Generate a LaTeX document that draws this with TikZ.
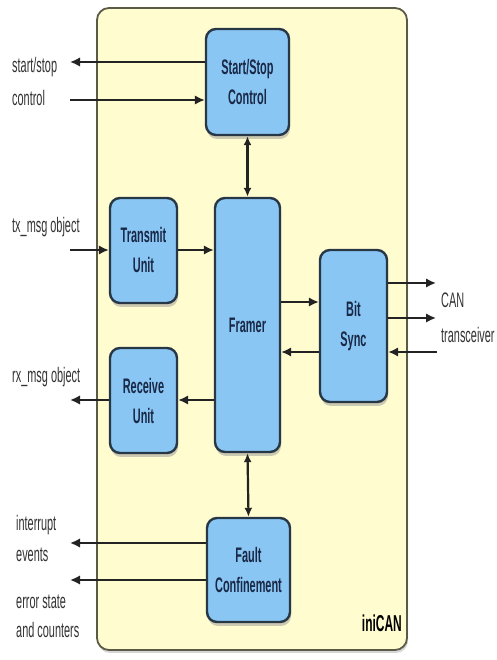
\documentclass[tikz,border=0pt]{standalone}
\usepackage{fontspec}
\setmainfont{Liberation Sans}[FakeStretch=0.52]
\usetikzlibrary{arrows.meta,shadows}
\definecolor{outerfill}{RGB}{255,252,208}
\definecolor{outerdraw}{RGB}{90,90,70}
\definecolor{boxfill}{RGB}{138,198,244}
\definecolor{boxdraw}{RGB}{40,55,70}
\definecolor{boxtext}{RGB}{25,40,70}
\definecolor{labeltext}{RGB}{50,50,50}
\definecolor{arrcol}{RGB}{35,35,35}
\begin{document}
\begin{tikzpicture}[x=1pt,y=1pt,
  blk/.style={draw=boxdraw, line width=2.4pt, fill=boxfill, rounded corners=10pt,
    align=center, text=boxtext, font=\fontsize{21}{30}\selectfont\bfseries,
    drop shadow={shadow xshift=1pt, shadow yshift=-4pt, fill=black!45, opacity=0.45}},
  lbl/.style={anchor=west, inner sep=0pt, text=labeltext, font=\fontsize{21}{24}\selectfont},
  arr/.style={draw=arrcol, line width=2.5pt, -{Latex[length=10pt,width=9.5pt]}},
  darr/.style={draw=arrcol, line width=2.2pt, {Latex[length=9pt,width=8pt]}-{Latex[length=9pt,width=8pt]}}
]
\useasboundingbox (0,0) rectangle (496,660);
% outer box
\node[draw=outerdraw, line width=1.8pt, fill=outerfill, rounded corners=12pt,
  minimum width=310pt, minimum height=642pt, inner sep=0pt,
  drop shadow={shadow xshift=1pt, shadow yshift=-3pt, fill=black!40, opacity=0.4}]
  (outer) at (252,331) {};
\node[anchor=east, inner sep=0pt, text=black, font=\fontsize{23}{26}\selectfont\bfseries] (ini) at (402,37) {iniCAN};

% blocks
\node[blk, minimum width=83pt, minimum height=106pt] (ss) at (247.5,578) {Start/Stop\\Control};
\node[blk, minimum width=67pt, minimum height=105pt] (tx) at (143.5,409.5) {Transmit\\Unit};
\node[blk, minimum width=65pt, minimum height=254pt] (fr) at (247.5,335) {Framer};
\node[blk, minimum width=67pt, minimum height=152pt] (bs) at (353.5,334) {Bit\\Sync};
\node[blk, minimum width=67pt, minimum height=105pt] (rx) at (143.5,259.5) {Receive\\Unit};
\node[blk, minimum width=83pt, minimum height=104pt] (fc) at (248.5,90) {Fault\\Confinement};

% free ends
\coordinate (ssout) at (70,598);
\coordinate (ssin) at (70,560);
\coordinate (txin) at (70,410);
\coordinate (rxout) at (70,260);
\coordinate (can1) at (436,377);
\coordinate (can2) at (436,342);
\coordinate (can3) at (437,308);
\coordinate (fc1) at (70,117);
\coordinate (fc2) at (70,80);

% connectors
\draw[arr] (ss.west |- ssout) -- (ssout);
\draw[arr] (ssin) -- (ss.west |- ssin);
\draw[darr] (ss.south) -- (fr.north);
\draw[arr] (txin) -- (tx.west |- txin);
\draw[arr] (tx.east |- txin) -- (fr.west |- txin);
\draw[arr] (fr.east |- 0,358) -- (bs.west |- 0,358);
\draw[arr] (bs.west |- can3) -- (fr.east |- can3);
\draw[arr] (bs.east |- can1) -- (can1);
\draw[arr] (bs.east |- can2) -- (can2);
\draw[arr] (can3) -- (bs.east |- can3);
\draw[arr] (fr.west |- rxout) -- (rx.east |- rxout);
\draw[arr] (rx.west |- rxout) -- (rxout);
\draw[darr] (fr.south) -- (fc.north);
\draw[arr] (fc.west |- fc1) -- (fc1);
\draw[arr] (fc.west |- fc2) -- (fc2);

% labels
\node[lbl] (l1) at (12,593) {start/stop};
\node[lbl] (l2) at (12,562) {control};
\node[lbl] (l3) at (12,433) {tx\_msg object};
\node[lbl] (l4) at (12,283) {rx\_msg object};
\node[lbl] (l5) at (441,360) {CAN};
\node[lbl] (l6) at (441,325) {transceiver};
\node[lbl] (l7) at (16,135) {interrupt};
\node[lbl] (l8) at (16,105) {events};
\node[lbl] (l9) at (16,58) {error state};
\node[lbl] (l10) at (16,30) {and counters};
\end{tikzpicture}
\end{document}
